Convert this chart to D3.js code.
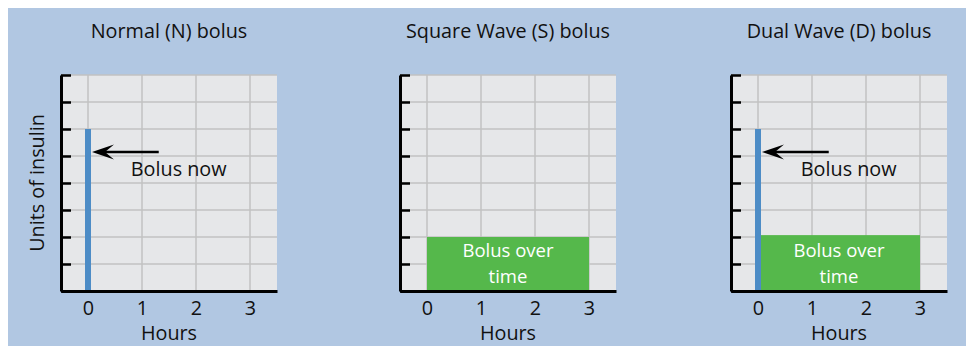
<!DOCTYPE html>
<html>
<head>
<meta charset="utf-8">
<script src="https://cdn.jsdelivr.net/npm/d3@7"></script>
<style>
  html, body { margin: 0; padding: 0; background: #ffffff; }
  svg { display: block; }
  text { font-family: "Open Sans", "Noto Sans", sans-serif; fill: #111111; }
</style>
</head>
<body>
<svg id="chart" width="966" height="347"></svg>
<script>
// ---- data ----
const panelTitles = ["Normal (N) bolus", "Square Wave (S) bolus", "Dual Wave (D) bolus"];
const hourTicks = [0, 1, 2, 3];
const unitTicks = [0, 1, 2, 3, 4, 5, 6, 7, 8];
const bolusNowUnits = [6, null, 6];          // immediate bolus at hour 0
const bolusNowLabel = ["Bolus now", null, "Bolus now"];
const overTimeStart = [null, 0, 0];          // extended bolus start (hours)
const overTimeEnd = [null, 3, 3];            // extended bolus end (hours)
const overTimeUnits = [null, 2, 2.07];       // extended bolus level
const overTimeLabel = ["Bolus over", "time"];
const xLabel = "Hours";
const yLabel = "Units of insulin";

// ---- layout ----
const svg = d3.select("#chart");
svg.append("rect").attr("x", 8).attr("y", 8).attr("width", 958).attr("height", 338)
   .attr("fill", "#b1c7e2");

const plotLefts = [61, 400, 731];
const plotTop = 75, plotW = 216, plotH = 216;
const fontSize = 19.8;

panelTitles.forEach((title, i) => {
  const x = d3.scaleLinear().domain([-0.5, 3.5]).range([plotLefts[i], plotLefts[i] + plotW]);
  const y = d3.scaleLinear().domain([0, 8]).range([plotTop + plotH, plotTop]);
  const g = svg.append("g");

  // plot background
  g.append("rect").attr("x", x(-0.5)).attr("y", y(8))
   .attr("width", x(3.5) - x(-0.5)).attr("height", y(0) - y(8)).attr("fill", "#e6e7e9");

  // grid
  g.selectAll(".vg").data(hourTicks).join("line")
   .attr("x1", d => x(d)).attr("x2", d => x(d)).attr("y1", y(0)).attr("y2", y(8))
   .attr("stroke", "#c2c2c2").attr("stroke-width", 1.5);
  g.selectAll(".hg").data(unitTicks.slice(1)).join("line")
   .attr("x1", x(-0.5)).attr("x2", x(3.5)).attr("y1", d => y(d)).attr("y2", d => y(d))
   .attr("stroke", "#c2c2c2").attr("stroke-width", 1.5);

  // extended bolus
  if (overTimeUnits[i] != null) {
    g.append("rect").attr("x", x(overTimeStart[i])).attr("y", y(overTimeUnits[i]))
     .attr("width", x(overTimeEnd[i]) - x(overTimeStart[i]))
     .attr("height", y(0) - y(overTimeUnits[i]) - 1)
     .attr("fill", "#55b84b");
    const cx = (x(overTimeStart[i]) + x(overTimeEnd[i])) / 2;
    overTimeLabel.forEach((t, k) => {
      g.append("text").attr("x", cx).attr("y", 257 + k * 26)
       .attr("text-anchor", "middle").attr("font-size", 18.5)
       .style("fill", "#ffffff").text(t);
    });
  }

  // immediate bolus
  if (bolusNowUnits[i] != null) {
    g.append("rect").attr("x", x(0) - 3).attr("y", y(bolusNowUnits[i]))
     .attr("width", 6).attr("height", y(0) - y(bolusNowUnits[i]))
     .attr("fill", "#4d8cc6");
    // arrow
    const ay = y(5.15);
    const ax0 = x(1.31), ax1 = x(0) + 4;
    g.append("line").attr("x1", ax0).attr("x2", ax1 + 8).attr("y1", ay).attr("y2", ay)
     .attr("stroke", "#000").attr("stroke-width", 2.4);
    g.append("path")
     .attr("d", `M${ax1},${ay} L${ax1 + 22},${ay - 7.5} L${ax1 + 13},${ay} L${ax1 + 22},${ay + 7.5} Z`)
     .attr("fill", "#000");
    g.append("text").attr("x", x(1.68)).attr("y", 176)
     .attr("text-anchor", "middle").attr("font-size", fontSize).text(bolusNowLabel[i]);
  }

  // y axis (ticks inward, no labels)
  const yAxis = g.append("g").attr("transform", `translate(${x(-0.5)},0)`)
    .call(d3.axisRight(y).tickValues(unitTicks).tickSize(10).tickSizeOuter(0).tickFormat(""));
  yAxis.select(".domain").attr("stroke", "#000").attr("stroke-width", 3);
  yAxis.selectAll(".tick line").attr("stroke", "#000").attr("stroke-width", 2.5);

  // x axis line + labels
  const xAxis = g.append("g").attr("transform", `translate(0,${y(0)})`)
    .call(d3.axisBottom(x).tickValues(hourTicks).tickSize(0).tickPadding(0).tickFormat(d3.format("d")));
  xAxis.select(".domain").attr("stroke", "#000").attr("stroke-width", 3);
  xAxis.selectAll(".tick text").attr("font-size", fontSize)
    .attr("font-family", "'Open Sans', 'Noto Sans', sans-serif")
    .attr("fill", "#111111").attr("dy", null).attr("y", 24);

  // x label
  g.append("text").attr("x", x(1.5)).attr("y", 340).attr("text-anchor", "middle")
   .attr("font-size", fontSize).text(xLabel);

  // title
  g.append("text").attr("x", x(1.5)).attr("y", 38).attr("text-anchor", "middle")
   .attr("font-size", fontSize).text(title);

  if (i === 0) {
    g.append("text").attr("transform", `translate(44,${y(4)}) rotate(-90)`)
     .attr("text-anchor", "middle").attr("font-size", fontSize).text(yLabel);
  }
});
</script>
</body>
</html>
